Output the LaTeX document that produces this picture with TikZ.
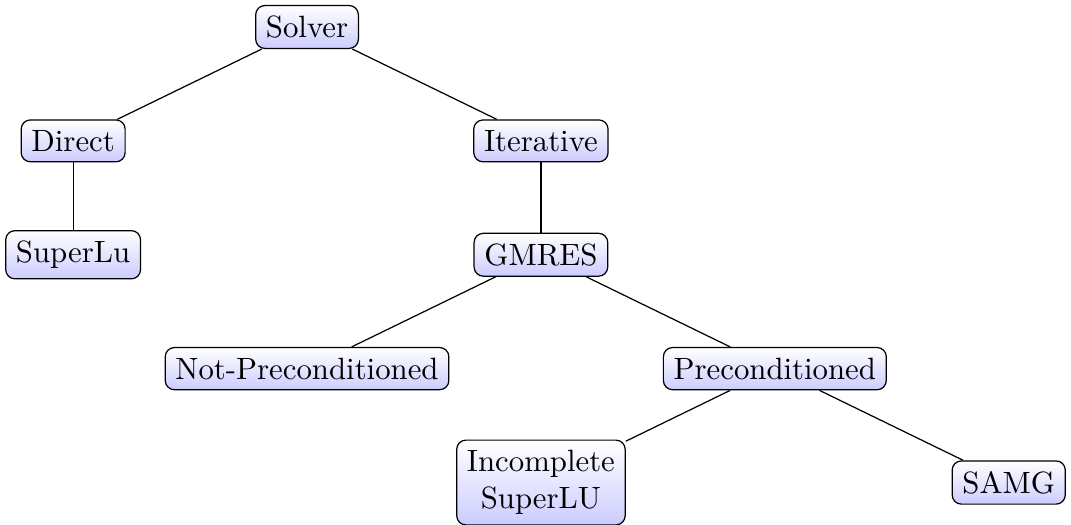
\documentclass[tikz,border=0pt]{standalone}
\usepackage{tikz}
\usetikzlibrary{positioning}

\begin{document}
\begin{tikzpicture}[
    block/.style={draw, rounded corners=3pt, align=center, top color=white, bottom color=blue!20, inner sep=3.33pt},
    link/.style={line width=0.4pt}
]
\useasboundingbox (-3.505,-5.685) rectangle (8.721,0.308);

\node[block] (solver) at (0,0) {Solver};
\node[block, below left=1.3cm and 2.67cm of solver.center, anchor=center] (direct) {Direct};
\node[block, below right=1.3cm and 2.67cm of solver.center, anchor=center] (iterative) {Iterative};
\node[block, below=1.3cm of direct.center, anchor=center] (superlu) {SuperLu};
\node[block, below=1.3cm of iterative.center, anchor=center] (gmres) {GMRES};
\node[block, below left=1.3cm and 2.67cm of gmres.center, anchor=center] (notprec) {Not-Preconditioned};
\node[block, below right=1.3cm and 2.67cm of gmres.center, anchor=center] (prec) {Preconditioned};
\node[block, below left=1.3cm and 2.67cm of prec.center, anchor=center] (ilu) {Incomplete\\SuperLU};
\node[block, below right=1.3cm and 2.67cm of prec.center, anchor=center] (samg) {SAMG};

\draw[link] (solver) -- (direct);
\draw[link] (solver) -- (iterative);
\draw[link] (direct) -- (superlu);
\draw[link] (iterative) -- (gmres);
\draw[link] (gmres) -- (notprec);
\draw[link] (gmres) -- (prec);
\draw[link] (prec) -- (ilu);
\draw[link] (prec) -- (samg);
\end{tikzpicture}
\end{document}
